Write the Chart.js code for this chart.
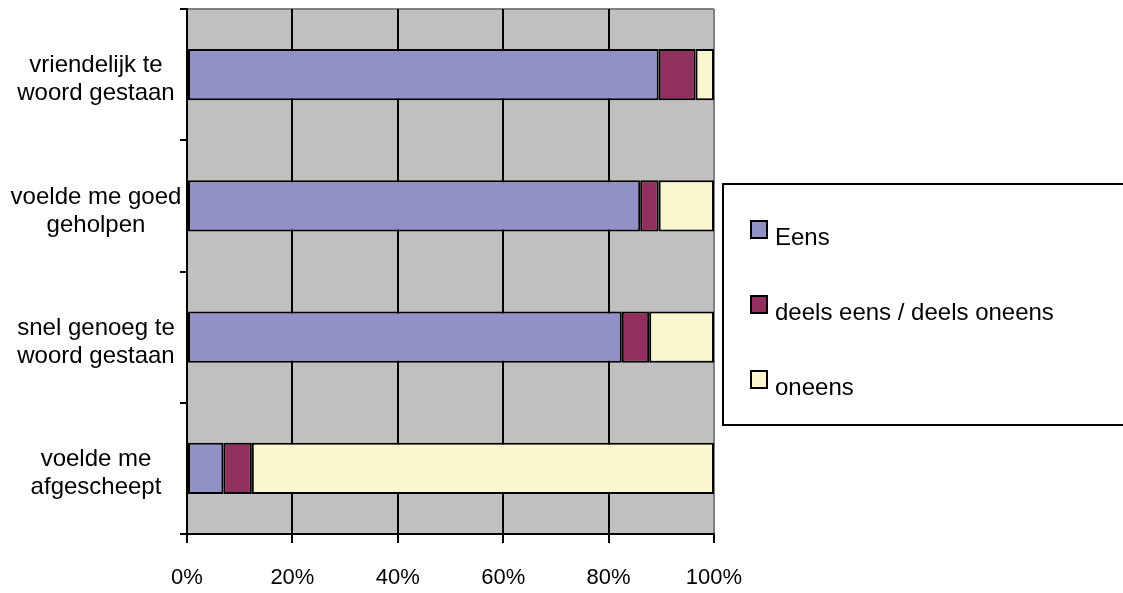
<!DOCTYPE html>
<html>
<head>
<meta charset="utf-8">
<script src="https://cdn.jsdelivr.net/npm/chart.js@4"></script>
<style>
  html, body { margin: 0; padding: 0; background: #fff; }
  canvas { display: block; }
</style>
</head>
<body>
<canvas id="myChart" width="1123" height="593"></canvas>
<script>
// Categories (two lines each) and the share per answer, in percent
var categories = [
    ['vriendelijk te', 'woord gestaan'],
    ['voelde me goed', 'geholpen'],
    ['snel genoeg te', 'woord gestaan'],
    ['voelde me', 'afgescheept']
];
var seriesNames = ['Eens', 'deels eens / deels oneens', 'oneens'];
var eens = [89.5, 86, 82.5, 6.9];
var deels = [7, 3.5, 5.2, 5.4];
var oneens = [3.5, 10.5, 12.3, 87.7];
var xTicks = [0, 20, 40, 60, 80, 100];

var colors = ['#9191c7', '#91305f', '#faf7cf'];
var FONT = "'Liberation Sans', Arial, sans-serif";

var ctx = document.getElementById('myChart').getContext('2d');

var data = {
    labels: categories,
    datasets: [eens, deels, oneens].map(function (values, i) {
        return {
            label: seriesNames[i],
            data: values,
            backgroundColor: colors[i],
            borderColor: '#000',
            borderWidth: 2,
            borderSkipped: false,
            categoryPercentage: 1,
            barPercentage: 0.39
        };
    })
};

// grey plot background with a grey top edge
var plotBackground = {
    id: 'plotBackground',
    beforeDraw: function (chart) {
        var a = chart.chartArea, c = chart.ctx;
        c.save();
        c.fillStyle = '#c0c0c0';
        c.fillRect(a.left, a.top, a.right - a.left, a.bottom - a.top);
        c.strokeStyle = '#808080';
        c.lineWidth = 2;
        c.beginPath();
        c.moveTo(a.left, a.top);
        c.lineTo(a.right, a.top);
        c.stroke();
        c.restore();
    }
};

// category labels, centred left of the axis and sitting a bit low
var categoryLabels = {
    id: 'categoryLabels',
    afterDraw: function (chart) {
        var y = chart.scales.y, c = chart.ctx;
        c.save();
        c.font = '24px ' + FONT;
        c.fillStyle = '#000';
        c.textAlign = 'center';
        c.textBaseline = 'middle';
        chart.data.labels.forEach(function (lines, i) {
            var cy = y.getPixelForValue(i);
            c.fillText(lines[0], 96, cy - 9);
            c.fillText(lines[1], 96, cy + 19);
        });
        c.restore();
    }
};

// boxed legend on the right
var boxLegend = {
    id: 'boxLegend',
    afterDraw: function (chart) {
        var c = chart.ctx;
        c.save();
        c.strokeStyle = '#000';
        c.lineWidth = 2;
        c.fillStyle = '#fff';
        c.fillRect(723, 184, 420, 241);
        c.strokeRect(723, 184, 420, 241);
        c.font = '24px ' + FONT;
        c.textBaseline = 'alphabetic';
        chart.data.datasets.forEach(function (ds, i) {
            var base = 245 + i * 75;
            c.fillStyle = ds.backgroundColor;
            c.fillRect(751, base - 24, 16, 17);
            c.strokeRect(751, base - 24, 16, 17);
            c.fillStyle = '#000';
            c.fillText(ds.label, 775, base);
        });
        c.restore();
    }
};

var myChart = new Chart(ctx, {
    type: 'bar',
    data: data,
    plugins: [plotBackground, categoryLabels, boxLegend],
    options: {
        indexAxis: 'y',
        responsive: false,
        animation: false,
        layout: { padding: { top: 9, right: 409, left: 0, bottom: 0 } },
        plugins: {
            legend: { display: false },
            tooltip: { enabled: false }
        },
        scales: {
            x: {
                stacked: true,
                min: 0,
                max: 100,
                afterBuildTicks: function (scale) {
                    scale.ticks = xTicks.map(function (v) { return { value: v }; });
                },
                afterFit: function (scale) { scale.height = 59; },
                ticks: {
                    callback: function (v) { return v + '%'; },
                    color: '#000',
                    padding: 22,
                    maxRotation: 0,
                    font: { family: FONT, size: 22 }
                },
                grid: {
                    color: function (c) { return c.tick && c.tick.value === 100 ? '#808080' : '#000'; },
                    tickColor: '#000',
                    lineWidth: 2,
                    tickLength: 9
                },
                border: { color: '#000', width: 2 }
            },
            y: {
                stacked: true,
                afterFit: function (scale) { scale.width = 187; },
                ticks: { display: false },
                grid: {
                    drawOnChartArea: false,
                    tickColor: '#000',
                    lineWidth: 2,
                    tickLength: 7
                },
                border: { color: '#000', width: 2 }
            }
        }
    }
});
</script>
</body>
</html>
